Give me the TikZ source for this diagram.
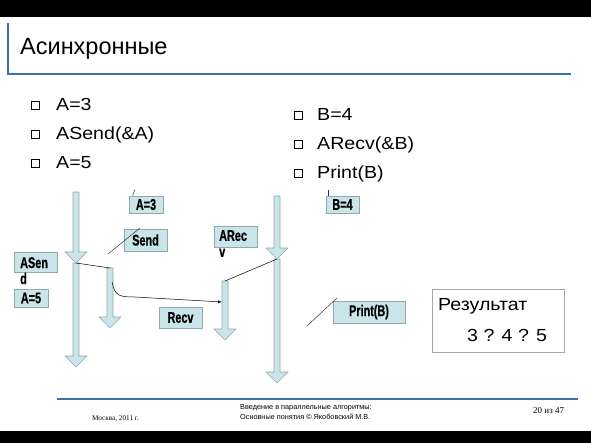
\documentclass[tikz,border=0pt]{standalone}
\usepackage{fontspec}
\setmainfont{Liberation Sans}
\newfontfamily\bulletfont[FakeStretch=1.12]{Liberation Sans}
\newfontfamily\boxfont[FakeStretch=0.7,FakeBold=0.6]{Liberation Sans Bold}
\newfontfamily\footserif{Liberation Serif}
\usetikzlibrary{arrows.meta}

\definecolor{arrfill}{HTML}{C9E5E9}
\definecolor{arrdraw}{HTML}{8FA9AD}
\definecolor{slideblue}{HTML}{3A6FB0}

% vertical time arrow: x, top, tip
\newcommand{\timearrow}[3]{%
  \filldraw[tarrow] (#1-3,#2) -- (#1+3,#2) -- (#1+3,#3-11) -- (#1+11,#3-11)
     -- (#1,#3) -- (#1-11,#3-11) -- (#1-3,#3-11) -- cycle;}
% square bullet with shadow, centred at x,y
\newcommand{\sqbullet}[2]{%
  \fill (#1-3,#2-3) rectangle (#1+5,#2+5);
  \filldraw[fill=white,line width=0.5pt] (#1-4,#2-4) rectangle (#1+4,#2+4);}

\begin{document}
\begin{tikzpicture}[x=1pt,y=-1pt,
        tarrow/.style={fill=arrfill,draw=arrdraw,line width=0.6pt},
        lbl/.style={draw=arrdraw,fill=arrfill,inner sep=0pt,line width=0.6pt,
            font=\boxfont\fontsize{15.5}{16}\selectfont},
        item/.style={anchor=base west,inner sep=0pt,
            font=\bulletfont\fontsize{17.5}{20}\selectfont},
        msg/.style={black,line width=0.5pt},
        callout/.style={black!80,line width=0.5pt}]
\useasboundingbox (0,0) rectangle (591,443);

% slide frame
\fill[black] (0,0) rectangle (591,17);
\fill[black] (0,431) rectangle (591,443);
\draw[slideblue,line width=2pt] (8,23) -- (8,74) -- (571,74);
\draw[slideblue,line width=2pt] (57,399) -- (578,399);

\node[anchor=base west,inner sep=0pt,font=\fontsize{23.5}{26}\selectfont]
    (title) at (20,55) {Асинхронные};

% process 1
\sqbullet{35}{105}
\sqbullet{35}{134}
\sqbullet{35}{163}
\node[item] (la1) at (56,110.5) {A=3};
\node[item] (la2) at (56,139.5) {ASend(\&A)};
\node[item] (la3) at (56,168.5) {A=5};

% process 2
\sqbullet{298}{115.5}
\sqbullet{298}{144.5}
\sqbullet{298}{173.5}
\node[item] (lb1) at (317,121) {B=4};
\node[item] (lb2) at (317,150) {ARecv(\&B)};
\node[item] (lb3) at (317,178.5) {Print(B)};

% time lines
\timearrow{76}{192}{263}
\timearrow{76}{263}{367}
\timearrow{110}{268}{328}
\timearrow{225}{281}{340}
\timearrow{277}{196}{259}
\timearrow{277}{259}{383}

\coordinate (sendpt) at (76,263);
\coordinate (buftop) at (110,268);
\coordinate (bufout) at (112,282);
\coordinate (recvin) at (222,302);
\coordinate (recvtop) at (225,281);
\coordinate (recvpt) at (277,259);

\draw[msg] (sendpt) -- (buftop);
\draw[msg,-{Latex[length=4pt,width=3pt]}] (bufout) .. controls (115,296) and (119,297)
    .. (135,297) -- (recvin);
\draw[msg] (recvtop) -- (recvpt);

% labels
\node[lbl,minimum width=34,minimum height=17] (a3) at (146,204.5) {A=3};
\node[lbl,minimum width=43,minimum height=22] (send) at (145.5,240) {Send};
\node[lbl,minimum width=43,minimum height=20] (asend) at (35.5,262) {};
\node[anchor=north west,inner sep=0pt,align=left,
    font=\boxfont\fontsize{15.5}{16}\selectfont] (asendtxt)
    at (20,257) {ASen\\d};
\node[lbl,minimum width=34,minimum height=18] (a5) at (31,298) {A=5};
\node[lbl,minimum width=43,minimum height=21] (recv) at (180.5,317.5) {Recv};
\node[lbl,minimum width=43,minimum height=21] (arecv) at (235.5,236.5) {};
\node[anchor=north west,inner sep=0pt,align=left,
    font=\boxfont\fontsize{15.5}{16}\selectfont] (arecvtxt)
    at (219,230) {ARec\\v};
\node[lbl,minimum width=33,minimum height=17] (b4) at (342.5,204.5) {B=4};
\node[lbl,minimum width=72,minimum height=22] (print) at (369,312) {Print(B)};

% callout leftovers
\coordinate (sendfoot) at (108,254);
\coordinate (sendhead) at (140,228);
\coordinate (printfoot) at (307,326);
\coordinate (printhead) at (337,298);
\draw[callout] (sendfoot) -- (sendhead);
\draw[callout] (printfoot) -- (printhead);
\draw[callout] (a3.north west) ++(4,0) -- ++(2,-6);
\draw[callout] (b4.north west) ++(3,0) -- ++(0,-6);

% result
\node[draw=black!35,fill=white,line width=0.6pt,minimum width=132,minimum height=63,
    inner sep=0pt] (res) at (498,320.5) {};
\node[item] (restitle) at (438,311) {Результат};
\node[item] (resval) at (467,341) {3 ? 4 ? 5};

% footer
\node[anchor=base west,inner sep=0pt,font=\footserif\fontsize{7.2}{9}\selectfont]
    (city) at (92,420) {Москва, 2011 г.};
\node[anchor=north west,inner sep=0pt,align=left,
    font=\fontsize{7.3}{10.5}\selectfont] (course) at (240,404)
    {Введение в параллельные алгоритмы:\\Основные понятия © Якобовский М.В.};
\node[anchor=base west,inner sep=0pt,font=\footserif\fontsize{9}{11}\selectfont]
    (page) at (533,413) {20 из 47};
\end{tikzpicture}
\end{document}
